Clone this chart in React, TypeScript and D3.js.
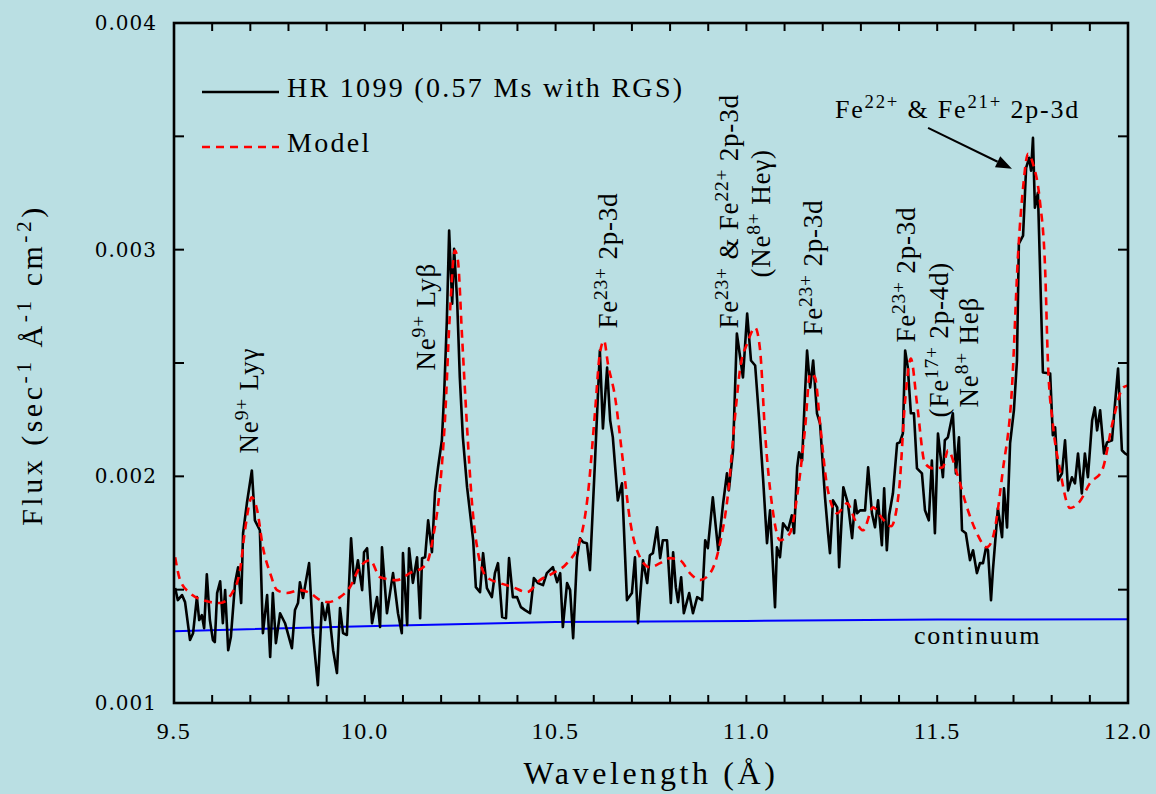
import React from 'react';
import * as d3 from 'd3';

// ---------- DATA ----------
const obsWavelength = [
  9.503, 9.510, 9.521, 9.529, 9.542, 9.550, 9.560, 9.566, 9.573, 9.579, 9.586, 9.594, 9.602, 9.607, 9.613, 9.621, 9.628, 9.634, 9.642, 9.649,
  9.660, 9.668, 9.676, 9.681, 9.691, 9.704, 9.712, 9.725, 9.733, 9.744, 9.752, 9.759, 9.767, 9.778, 9.791, 9.809, 9.817, 9.825, 9.830, 9.838,
  9.854, 9.864, 9.877, 9.888, 9.896, 9.904, 9.917, 9.927, 9.935, 9.943, 9.953, 9.964, 9.972, 9.982, 9.993, 9.998, 10.006, 10.019, 10.032, 10.040,
  10.045, 10.058, 10.074, 10.087, 10.097, 10.100, 10.111, 10.116, 10.126, 10.137, 10.145, 10.150, 10.158, 10.166, 10.176, 10.184, 10.192, 10.202, 10.208, 10.215,
  10.221, 10.229, 10.234, 10.242, 10.249, 10.257, 10.268, 10.276, 10.284, 10.291, 10.302, 10.310, 10.320, 10.333, 10.341, 10.349, 10.360, 10.370, 10.378, 10.388,
  10.399, 10.409, 10.420, 10.433, 10.443, 10.454, 10.467, 10.477, 10.493, 10.504, 10.512, 10.519, 10.530, 10.538, 10.546, 10.556, 10.564, 10.572, 10.582, 10.590,
  10.603, 10.616, 10.624, 10.635, 10.643, 10.650, 10.663, 10.674, 10.687, 10.700, 10.708, 10.716, 10.729, 10.740, 10.747, 10.755, 10.766, 10.774, 10.781, 10.792,
  10.802, 10.808, 10.815, 10.821, 10.829, 10.836, 10.850, 10.860, 10.871, 10.884, 10.892, 10.899, 10.912, 10.926, 10.939, 10.949, 10.954, 10.965, 10.975, 10.991,
  11.002, 11.012, 11.023, 11.033, 11.044, 11.054, 11.062, 11.075, 11.080, 11.088, 11.096, 11.109, 11.119, 11.125, 11.133, 11.138, 11.146, 11.154, 11.159, 11.167,
  11.175, 11.185, 11.193, 11.206, 11.214, 11.219, 11.227, 11.238, 11.243, 11.254, 11.266, 11.277, 11.285, 11.290, 11.298, 11.311, 11.319, 11.329, 11.337, 11.345,
  11.355, 11.361, 11.368, 11.374, 11.384, 11.395, 11.402, 11.410, 11.416, 11.423, 11.431, 11.439, 11.447, 11.460, 11.468, 11.478, 11.486, 11.494, 11.502, 11.515,
  11.520, 11.528, 11.541, 11.549, 11.557, 11.565, 11.575, 11.586, 11.594, 11.604, 11.612, 11.620, 11.628, 11.633, 11.641, 11.646, 11.659, 11.670, 11.675, 11.683,
  11.691, 11.701, 11.709, 11.714, 11.725, 11.733, 11.741, 11.746, 11.751, 11.756, 11.764, 11.777, 11.796, 11.803, 11.809, 11.817, 11.827, 11.835, 11.843, 11.853,
  11.861, 11.869, 11.879, 11.887, 11.895, 11.906, 11.913, 11.919, 11.927, 11.937, 11.945, 11.958, 11.966, 11.974, 11.984, 11.992, 12.000,
];

const obsFlux = [
  0.001507, 0.001454, 0.001476, 0.001445, 0.001278, 0.001308, 0.001467, 0.001366, 0.001388, 0.001330, 0.001568, 0.001366, 0.001278, 0.001269, 0.001485, 0.001537, 0.001352, 0.001498, 0.001233, 0.001291,
  0.001529, 0.001599, 0.001441, 0.001749, 0.001881, 0.002026, 0.001806, 0.001762, 0.001308, 0.001476, 0.001203, 0.001485, 0.001264, 0.001396, 0.001352, 0.001242, 0.001410, 0.001441, 0.001533, 0.001463,
  0.001617, 0.001308, 0.001079, 0.001441, 0.001366, 0.001441, 0.001233, 0.001132, 0.001419, 0.001308, 0.001300, 0.001727, 0.001529, 0.001630, 0.001498, 0.001665, 0.001683, 0.001352, 0.001467, 0.001335,
  0.001687, 0.001396, 0.001573, 0.001396, 0.001308, 0.001661, 0.001344, 0.001683, 0.001530, 0.001643, 0.001374, 0.001639, 0.001643, 0.001806, 0.001665, 0.001930, 0.002040, 0.002159, 0.002366, 0.002687,
  0.003084, 0.002762, 0.003004, 0.002775, 0.002436, 0.002172, 0.001952, 0.001837, 0.001718, 0.001511, 0.001489, 0.001661, 0.001507, 0.001467, 0.001573, 0.001617, 0.001379, 0.001374, 0.001639, 0.001467,
  0.001467, 0.001423, 0.001410, 0.001396, 0.001551, 0.001529, 0.001520, 0.001573, 0.001599, 0.001533, 0.001573, 0.001335, 0.001529, 0.001498, 0.001286, 0.001643, 0.001727, 0.001709, 0.001705, 0.001586,
  0.002057, 0.002555, 0.002211, 0.002480, 0.002247, 0.002172, 0.001894, 0.001969, 0.001454, 0.001485, 0.001643, 0.001352, 0.001630, 0.001529, 0.001652, 0.001661, 0.001775, 0.001639, 0.001718, 0.001718,
  0.001441, 0.001665, 0.001511, 0.001445, 0.001555, 0.001396, 0.001485, 0.001396, 0.001467, 0.001454, 0.001718, 0.001683, 0.001907, 0.001674, 0.001881, 0.002013, 0.001938, 0.002115, 0.002630, 0.002436,
  0.002718, 0.002511, 0.002489, 0.002260, 0.001982, 0.001705, 0.001850, 0.001423, 0.001687, 0.001643, 0.001793, 0.001762, 0.001828, 0.001749, 0.002040, 0.002106, 0.002070, 0.002379, 0.002555, 0.002392,
  0.002511, 0.002278, 0.002233, 0.001907, 0.001749, 0.001661, 0.001894, 0.001863, 0.001599, 0.001952, 0.001881, 0.001727, 0.001894, 0.001837, 0.001850, 0.001850, 0.002040, 0.001837, 0.001775, 0.001894,
  0.001696, 0.001947, 0.001674, 0.001828, 0.001925, 0.002145, 0.002150, 0.002189, 0.002555, 0.002480, 0.002278, 0.002278, 0.002035, 0.002013, 0.001850, 0.001806, 0.002070, 0.001749, 0.002189, 0.001996,
  0.002159, 0.002172, 0.002278, 0.002013, 0.002172, 0.001762, 0.001749, 0.001630, 0.001674, 0.001573, 0.001617, 0.001617, 0.001687, 0.001674, 0.001454, 0.001586, 0.001859, 0.001731, 0.001947, 0.001775,
  0.002145, 0.002291, 0.002511, 0.003026, 0.003062, 0.003361, 0.003405, 0.003348, 0.003493, 0.003185, 0.003251, 0.002458, 0.002454, 0.002181, 0.002216, 0.001982, 0.002013, 0.002159, 0.001938, 0.001996,
  0.001969, 0.002101, 0.001925, 0.002101, 0.001996, 0.002247, 0.002304, 0.002203, 0.002291, 0.002101, 0.002150, 0.002159, 0.002322, 0.002476, 0.002115, 0.002101, 0.002093,
];

const modelWavelength = [
  9.503, 9.516, 9.542, 9.576, 9.621, 9.652, 9.673, 9.686, 9.704, 9.718, 9.733, 9.752, 9.770, 9.796, 9.830, 9.856, 9.883, 9.904, 9.935, 9.961,
  9.987, 10.014, 10.040, 10.084, 10.118, 10.153, 10.166, 10.179, 10.197, 10.210, 10.223, 10.236, 10.244, 10.255, 10.268, 10.281, 10.297, 10.320, 10.354, 10.388,
  10.425, 10.459, 10.493, 10.530, 10.564, 10.585, 10.603, 10.616, 10.627, 10.637, 10.656, 10.674, 10.695, 10.721, 10.747, 10.774, 10.800, 10.826, 10.852, 10.878,
  10.905, 10.931, 10.952, 10.970, 10.984, 11.002, 11.023, 11.036, 11.049, 11.068, 11.088, 11.114, 11.135, 11.154, 11.167, 11.180, 11.193, 11.212, 11.238, 11.264,
  11.285, 11.306, 11.332, 11.358, 11.379, 11.400, 11.416, 11.431, 11.447, 11.468, 11.489, 11.515, 11.528, 11.552, 11.578, 11.604, 11.630, 11.646, 11.672, 11.696,
  11.712, 11.725, 11.738, 11.751, 11.769, 11.783, 11.790, 11.803, 11.822, 11.848, 11.874, 11.900, 11.932, 11.961, 11.987, 12.000,
];

const modelFlux = [
  0.001643, 0.001542, 0.001485, 0.001454, 0.001441, 0.001485, 0.001586, 0.001762, 0.001907, 0.001850, 0.001687, 0.001573, 0.001498, 0.001485, 0.001498, 0.001485, 0.001454, 0.001445, 0.001467, 0.001511,
  0.001599, 0.001630, 0.001555, 0.001542, 0.001573, 0.001599, 0.001630, 0.001731, 0.001952, 0.002247, 0.002718, 0.002996, 0.002952, 0.002612, 0.002216, 0.001881, 0.001661, 0.001555, 0.001529, 0.001511,
  0.001489, 0.001542, 0.001573, 0.001617, 0.001718, 0.001925, 0.002278, 0.002542, 0.002599, 0.002498, 0.002348, 0.002101, 0.001806, 0.001643, 0.001599, 0.001617, 0.001639, 0.001630, 0.001573, 0.001542,
  0.001573, 0.001705, 0.001925, 0.002260, 0.002480, 0.002586, 0.002656, 0.002555, 0.002189, 0.001863, 0.001718, 0.001749, 0.001938, 0.002216, 0.002454, 0.002436, 0.002233, 0.001952, 0.001837, 0.001881,
  0.001806, 0.001762, 0.001863, 0.001810, 0.001780, 0.001938, 0.002335, 0.002520, 0.002322, 0.002057, 0.002035, 0.002040, 0.002115, 0.002013, 0.001863, 0.001749, 0.001687, 0.001731, 0.002026, 0.002392,
  0.002982, 0.003273, 0.003423, 0.003379, 0.003216, 0.002907, 0.002511, 0.002233, 0.002026, 0.001860, 0.001890, 0.001969, 0.002026, 0.002247, 0.002392, 0.002401,
];

const continuumWavelength = [9.5, 10.0, 10.5, 11.0, 11.5, 12.0];
const continuumFlux = [0.001317, 0.001339, 0.001357, 0.001362, 0.001368, 0.001370];

const seriesLabels = ['HR 1099 (0.57 Ms with RGS)', 'Model'];

// line annotations: anchor wavelength / flux, text with ^{superscript}
const lineLabels = [
  { wl: 9.720, flux: 0.002101, text: 'Ne^{9+} Lyγ' },
  { wl: 10.184, flux: 0.002467, text: 'Ne^{9+} Lyβ' },
  { wl: 10.661, flux: 0.002652, text: 'Fe^{23+} 2p-3d' },
  { wl: 10.978, flux: 0.002652, text: 'Fe^{23+} & Fe^{22+} 2p-3d' },
  { wl: 11.062, flux: 0.002877, text: '(Ne^{8+} Heγ)' },
  { wl: 11.198, flux: 0.002621, text: 'Fe^{23+} 2p-3d' },
  { wl: 11.442, flux: 0.002590, text: 'Fe^{23+} 2p-3d' },
  { wl: 11.528, flux: 0.002260, text: '(Fe^{17+} 2p-4d)' },
  { wl: 11.607, flux: 0.002304, text: 'Ne^{8+} Heβ' },
];

const blendLabel = { wl: 11.232, flux: 0.003581, text: 'Fe^{22+} & Fe^{21+} 2p-3d' };
const arrowFrom = { wl: 11.476, flux: 0.003537 };
const arrowTo = { wl: 11.696, flux: 0.003357 };
const continuumLabel = { wl: 11.439, flux: 0.001260, text: 'continuum' };

const xLabel = 'Wavelength (Å)';
const yLabel = 'Flux (sec^{-1} Å^{-1} cm^{-2})';

// ---------- LAYOUT ----------
const W = 1156;
const H = 794;
const L = 174, R = 1128, T = 23, B = 703;
const BG = '#badfe3';
const SERIF = '"Liberation Serif", "Times New Roman", serif';

function parse(s: string) {
  const out: { t: string; sup: boolean }[] = [];
  const re = /\^\{([^}]*)\}/g;
  let last = 0;
  let m: RegExpExecArray | null;
  while ((m = re.exec(s))) {
    if (m.index > last) out.push({ t: s.slice(last, m.index), sup: false });
    out.push({ t: m[1], sup: true });
    last = re.lastIndex;
  }
  if (last < s.length) out.push({ t: s.slice(last), sup: false });
  return out;
}

function Rich({ s, fs }: { s: string; fs: number }) {
  let shifted = false;
  const shift = fs * 0.38;
  return (
    <>
      {parse(s).map((p, i) => {
        let dy: number | undefined;
        if (p.sup && !shifted) { dy = -shift; shifted = true; }
        else if (!p.sup && shifted) { dy = shift; shifted = false; }
        return (
          <tspan key={i} dy={dy} fontSize={p.sup ? fs * 0.72 : fs}>{p.t}</tspan>
        );
      })}
    </>
  );
}

export default function App() {
  const x = d3.scaleLinear().domain([9.5, 12.0]).range([L, R]);
  const y = d3.scaleLinear().domain([0.001, 0.004]).range([B, T]);

  const obs = obsWavelength.map((w, i) => [w, obsFlux[i]] as [number, number]);
  const mod = modelWavelength.map((w, i) => [w, modelFlux[i]] as [number, number]);
  const cont = continuumWavelength.map((w, i) => [w, continuumFlux[i]] as [number, number]);

  const lineLin = d3.line<[number, number]>().x(d => x(d[0])).y(d => y(d[1]));
  const lineSmooth = d3.line<[number, number]>().x(d => x(d[0])).y(d => y(d[1])).curve(d3.curveMonotoneX);

  const xMajor = x.ticks(5);
  const xMinor = x.ticks(25);
  const yMajor = y.ticks(3);
  const yMinor = y.ticks(6);
  const fx = d3.format('.1f');
  const fy = d3.format('.3f');

  // arrow
  const ax0 = x(arrowFrom.wl), ay0 = y(arrowFrom.flux);
  const ax1 = x(arrowTo.wl), ay1 = y(arrowTo.flux);
  const ang = Math.atan2(ay1 - ay0, ax1 - ax0);
  const hl = 16, hw = 6;
  const bx = ax1 - hl * Math.cos(ang), by = ay1 - hl * Math.sin(ang);
  const head = [
    [ax1, ay1],
    [bx + hw * Math.sin(ang), by - hw * Math.cos(ang)],
    [bx - hw * Math.sin(ang), by + hw * Math.cos(ang)],
  ].map(p => p.join(',')).join(' ');

  const rotFs = 27;

  return (
    <svg width={W} height={H} style={{ position: 'absolute', left: 0, top: 0, background: BG }} fontFamily={SERIF}>
      <rect x={0} y={0} width={W} height={H} fill={BG} />

      {/* continuum */}
      <path d={lineLin(cont) || ''} fill="none" stroke="#0000ff" strokeWidth={2} />
      {/* observed */}
      <path d={lineLin(obs) || ''} fill="none" stroke="#000" strokeWidth={2.6} strokeLinejoin="round" />
      {/* model */}
      <path d={lineSmooth(mod) || ''} fill="none" stroke="#ff0000" strokeWidth={2.6} strokeDasharray="8,6" />

      {/* frame */}
      <rect x={L} y={T} width={R - L} height={B - T} fill="none" stroke="#000" strokeWidth={2.6} />

      {/* x ticks (bottom & top, inward) */}
      {xMinor.map((t, i) => (
        <g key={'xt' + i}>
          <line x1={x(t)} x2={x(t)} y1={B} y2={B - 8} stroke="#000" strokeWidth={2} />
          <line x1={x(t)} x2={x(t)} y1={T} y2={T + 8} stroke="#000" strokeWidth={2} />
        </g>
      ))}
      {xMajor.map((t, i) => (
        <text key={'xl' + i} x={x(t)} y={739} textAnchor="middle" fontSize={24} letterSpacing={1.5} fill="#000">
          {fx(t)}
        </text>
      ))}

      {/* y ticks (left & right, inward) */}
      {yMinor.map((t, i) => (
        <g key={'yt' + i}>
          <line x1={L} x2={L + 10} y1={y(t)} y2={y(t)} stroke="#000" strokeWidth={2} />
          <line x1={R} x2={R - 10} y1={y(t)} y2={y(t)} stroke="#000" strokeWidth={2} />
        </g>
      ))}
      {yMajor.map((t, i) => (
        <text key={'yl' + i} x={157} y={y(t)} textAnchor="end" dominantBaseline="central" fontSize={20}
          fontFamily='"DejaVu Serif", serif' letterSpacing={1} fill="#000">
          {fy(t)}
        </text>
      ))}

      {/* axis titles */}
      <text x={651} y={784} textAnchor="middle" fontSize={32} letterSpacing={3.6} fill="#000">{xLabel}</text>
      <text transform={`translate(42,${(T + B) / 2 + 2}) rotate(-90)`} textAnchor="middle" letterSpacing={3.5} fill="#000" style={{ whiteSpace: 'pre' }}>
        <Rich s={yLabel} fs={30} />
      </text>

      {/* legend */}
      <line x1={202} x2={279} y1={92} y2={92} stroke="#000" strokeWidth={2.6} />
      <text x={287} y={97} fontSize={28} letterSpacing={2.3} fill="#000">{seriesLabels[0]}</text>
      <line x1={202} x2={279} y1={147} y2={147} stroke="#ff0000" strokeWidth={2.6} strokeDasharray="8,6" />
      <text x={287} y={152} fontSize={28} letterSpacing={2.3} fill="#000">{seriesLabels[1]}</text>

      {/* rotated line labels */}
      {lineLabels.map((a, i) => (
        <text key={'ll' + i} transform={`translate(${x(a.wl)},${y(a.flux)}) rotate(-90)`} letterSpacing={0.8}
          fill="#000" style={{ whiteSpace: 'pre' }}>
          <Rich s={a.text} fs={rotFs} />
        </text>
      ))}

      {/* blend label + arrow */}
      <text x={x(blendLabel.wl)} y={y(blendLabel.flux)} letterSpacing={1.8} fill="#000" style={{ whiteSpace: 'pre' }}>
        <Rich s={blendLabel.text} fs={26} />
      </text>
      <line x1={ax0} y1={ay0} x2={bx} y2={by} stroke="#000" strokeWidth={2} />
      <polygon points={head} fill="#000" />

      {/* continuum label */}
      <text x={x(continuumLabel.wl)} y={y(continuumLabel.flux)} fontSize={26} letterSpacing={1.8} fill="#000">
        {continuumLabel.text}
      </text>
    </svg>
  );
}
